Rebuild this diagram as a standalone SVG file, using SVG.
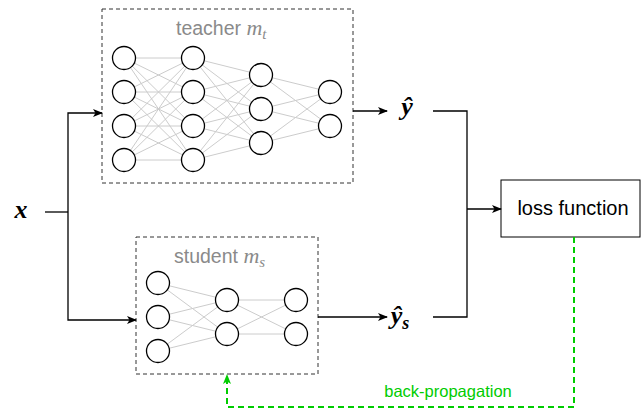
<svg xmlns="http://www.w3.org/2000/svg" width="641" height="409" viewBox="0 0 641 409">
<style>
.box{fill:none;stroke:#333;stroke-width:1;stroke-dasharray:4 3}
.n{fill:#fff;stroke:#000;stroke-width:1.3}
.w{stroke:#cccccc;stroke-width:1}
.e{fill:none;stroke:#000;stroke-width:1.3}
.lbl{font-family:"Liberation Sans",Arial,sans-serif;font-size:19.5px;fill:#8a8a8a}
.m{font-family:"Liberation Serif","Times New Roman",serif;font-style:italic}
.math{font-family:"Liberation Serif","Times New Roman",serif;font-style:italic;font-weight:bold;font-size:26px;fill:#000}
</style>
<defs>
<marker id="ah" viewBox="0 0 10 10" refX="9" refY="5" markerWidth="10" markerHeight="10" markerUnits="userSpaceOnUse" orient="auto">
<path d="M0,1 L10,5 L0,9 L2.5,5 Z" fill="#000"/>
</marker>
<marker id="ahg" viewBox="0 0 10 10" refX="9" refY="5" markerWidth="10" markerHeight="10" markerUnits="userSpaceOnUse" orient="auto">
<path d="M0,1 L10,5 L0,9 L2.5,5 Z" fill="#00cc00"/>
</marker>
</defs>
<rect width="641" height="409" fill="#fff"/>

<g id="teacher">
<rect class="box" x="102" y="9" width="251" height="174"/>
<text class="lbl" x="176" y="35">teacher <tspan class="m" font-size="22">m</tspan><tspan class="m" font-size="15" dy="4">t</tspan></text>
<g class="w">
<path d="M124,58L193,58M124,58L193,92M124,58L193,126M124,58L193,160M124,92L193,58M124,92L193,92M124,92L193,126M124,92L193,160M124,126L193,58M124,126L193,92M124,126L193,126M124,126L193,160M124,160L193,58M124,160L193,92M124,160L193,126M124,160L193,160"/>
<path d="M193,58L261,75M193,58L261,109M193,58L261,143M193,92L261,75M193,92L261,109M193,92L261,143M193,126L261,75M193,126L261,109M193,126L261,143M193,160L261,75M193,160L261,109M193,160L261,143"/>
<path d="M261,75L330,92M261,75L330,126M261,109L330,92M261,109L330,126M261,143L330,92M261,143L330,126"/>
</g>
<circle class="n" cx="124" cy="58" r="11.5"/>
<circle class="n" cx="124" cy="92" r="11.5"/>
<circle class="n" cx="124" cy="126" r="11.5"/>
<circle class="n" cx="124" cy="160" r="11.5"/>
<circle class="n" cx="193" cy="58" r="11.5"/>
<circle class="n" cx="193" cy="92" r="11.5"/>
<circle class="n" cx="193" cy="126" r="11.5"/>
<circle class="n" cx="193" cy="160" r="11.5"/>
<circle class="n" cx="261" cy="75" r="11.5"/>
<circle class="n" cx="261" cy="109" r="11.5"/>
<circle class="n" cx="261" cy="143" r="11.5"/>
<circle class="n" cx="330" cy="92" r="11.5"/>
<circle class="n" cx="330" cy="126" r="11.5"/>
</g>

<g id="student">
<rect class="box" x="136" y="237" width="182" height="137"/>
<text class="lbl" x="174" y="263">student <tspan class="m" font-size="22">m</tspan><tspan class="m" font-size="15" dy="4">s</tspan></text>
<g class="w">
<path d="M158,283L227,300M158,283L227,334M158,317L227,300M158,317L227,334M158,351L227,300M158,351L227,334"/>
<path d="M227,300L296,300M227,300L296,334M227,334L296,300M227,334L296,334"/>
</g>
<circle class="n" cx="158" cy="283" r="11.5"/>
<circle class="n" cx="158" cy="317" r="11.5"/>
<circle class="n" cx="158" cy="351" r="11.5"/>
<circle class="n" cx="227" cy="300" r="11.5"/>
<circle class="n" cx="227" cy="334" r="11.5"/>
<circle class="n" cx="296" cy="300" r="11.5"/>
<circle class="n" cx="296" cy="334" r="11.5"/>
</g>

<g id="input">
<text class="math" x="21" y="218" text-anchor="middle">x</text>
</g>
<g id="y-hat">
<text class="math" x="407" y="115" text-anchor="middle">ŷ</text>
</g>
<g id="y-hat-s">
<text class="math" x="400" y="324" text-anchor="middle">ŷ<tspan font-size="18" dy="5">s</tspan></text>
</g>
<g id="loss">
<rect x="501" y="180" width="139" height="57" fill="#fff" stroke="#000" stroke-width="1"/>
<text x="573" y="215" text-anchor="middle" font-family="Liberation Sans,Arial,sans-serif" font-size="20" fill="#000">loss function</text>
</g>

<g id="connectors">
<path class="e" d="M45,212 L68,212"/>
<path class="e" d="M68,212 L68,113 L102,113" marker-end="url(#ah)"/>
<path class="e" d="M68,212 L68,320 L136,320" marker-end="url(#ah)"/>
<path class="e" d="M353,111 L387,111" marker-end="url(#ah)"/>
<path class="e" d="M318,317 L387,317" marker-end="url(#ah)"/>
<path class="e" d="M433,111 L467,111 L467,317 L433,317"/>
<path class="e" d="M467,209 L501,209" marker-end="url(#ah)"/>
<path d="M574,237 L574,407 L227,407 L227,375" fill="none" stroke="#00cc00" stroke-width="2" stroke-dasharray="6 4" marker-end="url(#ahg)"/>
<text x="448" y="397" text-anchor="middle" font-family="Liberation Sans,Arial,sans-serif" font-size="16.5" fill="#00cc00">back-propagation</text>
</g>
</svg>
